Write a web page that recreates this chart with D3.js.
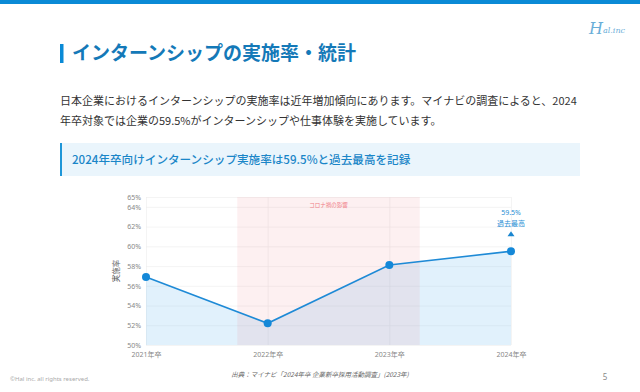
<!DOCTYPE html>
<html>
<head>
<meta charset="utf-8">
<script src="https://d3js.org/d3.v7.min.js"></script>
<style>
  body { margin: 0; background: #fff; font-family: 'Noto Sans CJK JP', 'Noto Sans', sans-serif; }
  svg { display: block; }
  .tick text { font-family: 'Noto Sans', 'Noto Sans CJK JP', sans-serif; fill: #888; font-size: 7px; }
  .grid line { stroke: #ececec; stroke-width: 0.6; }
  .grid path { stroke: none; }
</style>
</head>
<body>
<script>
// chart data
var years = ["2021年卒", "2022年卒", "2023年卒", "2024年卒"];
var rates = [56.9, 52.2, 58.1, 59.5];
var yTicks = [50, 52, 54, 56, 58, 60, 62, 64, 65];
var covidBand = [0.75, 2.25];   // index range of the highlighted period

var W = 640, H = 392;
var svg = d3.select("body").append("svg").attr("width", W).attr("height", H);

// top bar
svg.append("rect").attr("x", 0).attr("y", 0).attr("width", W).attr("height", 4).attr("fill", "#0a8ad6");

// logo
var logo = svg.append("text").attr("x", 589).attr("y", 34).attr("fill", "#6aaed8")
  .attr("font-family", "DejaVu Serif, serif").attr("font-style", "italic");
logo.append("tspan").attr("font-size", 16).text("H");
logo.append("tspan").attr("font-size", 8).attr("dy", -1).text("al.inc");

// title
svg.append("rect").attr("x", 60).attr("y", 44).attr("width", 3.5).attr("height", 19).attr("fill", "#0a8ad6");
svg.append("text").attr("x", 72).attr("y", 60).attr("font-size", 19).attr("font-weight", "bold")
  .attr("fill", "#1479b8").text("インターンシップの実施率・統計");

// body text
svg.append("text").attr("x", 60).attr("y", 105).attr("font-size", 11).attr("fill", "#333")
  .text("日本企業におけるインターンシップの実施率は近年増加傾向にあります。マイナビの調査によると、2024");
svg.append("text").attr("x", 60).attr("y", 125).attr("font-size", 11).attr("fill", "#333")
  .text("年卒対象では企業の59.5%がインターンシップや仕事体験を実施しています。");

// highlight box
svg.append("rect").attr("x", 60).attr("y", 143).attr("width", 520).attr("height", 33).attr("fill", "#eaf5fc");
svg.append("rect").attr("x", 60).attr("y", 143).attr("width", 2).attr("height", 33).attr("fill", "#1e96d8");
svg.append("text").attr("x", 72).attr("y", 164).attr("font-size", 11.6).attr("font-weight", 500)
  .attr("fill", "#1a86c8")
  .text("2024年卒向けインターンシップ実施率は59.5%と過去最高を記録");

// chart
var m = { left: 146, right: 129, top: 197, bottom: 47 };
var x = d3.scaleLinear().domain([0, years.length - 1]).range([m.left, W - m.right]);
var y = d3.scaleLinear().domain([50, 65]).range([H - m.bottom, m.top]);

// grid
svg.append("g").attr("class", "grid")
  .attr("transform", `translate(${m.left},0)`)
  .call(d3.axisLeft(y).tickValues(yTicks).tickSize(-(x.range()[1] - m.left)).tickFormat(""));
svg.append("g").attr("class", "grid")
  .attr("transform", `translate(0,${y(65)})`)
  .call(d3.axisTop(x).tickValues(d3.range(years.length)).tickSize(-(y(50) - y(65))).tickFormat(""));

var data = years.map((d, i) => ({ i: i, v: rates[i] }));

// area
svg.append("path").datum(data)
  .attr("fill", "rgba(120,190,240,0.22)")
  .attr("d", d3.area().x(d => x(d.i)).y0(y(50)).y1(d => y(d.v)));

// covid band
svg.append("rect")
  .attr("x", x(covidBand[0])).attr("y", y(65))
  .attr("width", x(covidBand[1]) - x(covidBand[0])).attr("height", y(50) - y(65))
  .attr("fill", "rgba(240,110,120,0.1)");
svg.append("text").attr("x", x((covidBand[0] + covidBand[1]) / 2)).attr("y", 207)
  .attr("text-anchor", "middle").attr("font-size", 5.5).attr("fill", "#f07d86")
  .text("コロナ禍の影響");

// axes labels
var yAx = svg.append("g").attr("transform", `translate(${m.left},0)`)
  .call(d3.axisLeft(y).tickValues(yTicks).tickSize(0).tickPadding(5).tickFormat(d => d + "%"));
yAx.select(".domain").remove();
var xAx = svg.append("g").attr("transform", `translate(0,${y(50)})`)
  .call(d3.axisBottom(x).tickValues(d3.range(years.length)).tickSize(0).tickPadding(7).tickFormat(i => years[i]));
xAx.select(".domain").remove();
xAx.selectAll("text").attr("font-family", "'Noto Sans CJK JP', sans-serif");

svg.append("text").attr("transform", `translate(119,${(y(50) + y(65)) / 2}) rotate(-90)`)
  .attr("text-anchor", "middle").attr("font-size", 7.5).attr("fill", "#666").text("実施率");

// line and points
svg.append("path").datum(data)
  .attr("fill", "none").attr("stroke", "#1e8ad6").attr("stroke-width", 1.6)
  .attr("d", d3.line().x(d => x(d.i)).y(d => y(d.v)));
svg.selectAll("circle.pt").data(data).enter().append("circle")
  .attr("class", "pt").attr("cx", d => x(d.i)).attr("cy", d => y(d.v))
  .attr("r", 4).attr("fill", "#1488d8");

// annotation for latest value
var last = data[data.length - 1];
var ax = x(last.i), ay = y(last.v);
svg.append("text").attr("x", ax).attr("y", ay - 36).attr("text-anchor", "middle")
  .attr("font-size", 7).attr("fill", "#2a8fd4").attr("font-family", "'Noto Sans', sans-serif")
  .text(last.v + "%");
svg.append("text").attr("x", ax).attr("y", ay - 25).attr("text-anchor", "middle")
  .attr("font-size", 7).attr("fill", "#2a8fd4").text("過去最高");
svg.append("path").attr("d", `M${ax - 3.5},${ay - 15}L${ax + 3.5},${ay - 15}L${ax},${ay - 20}Z`)
  .attr("fill", "#1a86d0");

// footer
svg.append("text").attr("x", 320).attr("y", 377).attr("text-anchor", "middle")
  .attr("font-size", 6.5).attr("font-style", "italic").attr("fill", "#666")
  .text("出典：マイナビ「2024年卒 企業新卒採用活動調査」(2023年)");
svg.append("text").attr("x", 10).attr("y", 381).attr("font-size", 6).attr("fill", "#aaa")
  .attr("font-family", "'Noto Sans', sans-serif").text("©Hal inc. all rights reserved.");
svg.append("text").attr("x", 605).attr("y", 380).attr("text-anchor", "middle")
  .attr("font-size", 8).attr("fill", "#888").attr("font-family", "'Noto Sans', sans-serif").text("5");
</script>
</body>
</html>
